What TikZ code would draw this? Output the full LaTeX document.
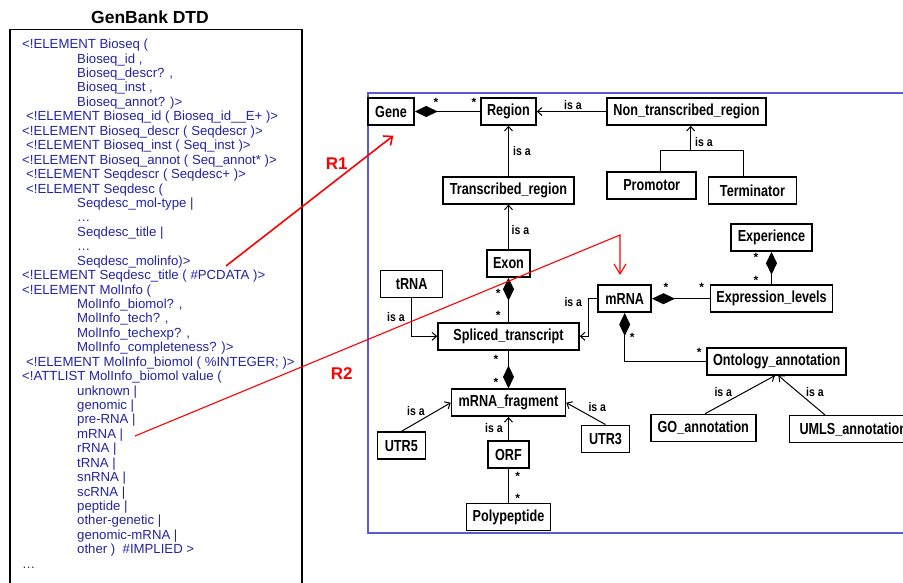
\documentclass[tikz,border=0pt]{standalone}
\usepackage{fontspec}
\setmainfont{Liberation Sans}
\newfontfamily\narrowfont[FakeStretch=0.79]{Liberation Sans}
\newfontfamily\lblfont[FakeStretch=0.84]{Liberation Sans}
\usetikzlibrary{arrows.meta}
\definecolor{dtdblue}{RGB}{35,35,165}
\definecolor{frameblue}{RGB}{90,90,215}
\definecolor{relred}{RGB}{255,0,0}
\newcommand\dtdline[3]{\node[dtd] (d#1) at (#2,{48.7+14.43*(#1-1)}) {#3};}
\begin{document}
\begin{tikzpicture}[x=1pt,y=-1pt,
  box/.style={draw, line width=1.5pt, inner sep=0pt, minimum height=27pt,
    font=\narrowfont\bfseries\fontsize{16}{18}\selectfont},
  dtd/.style={anchor=base west, inner sep=0pt, text=dtdblue,
    font=\fontsize{13.2}{15}\selectfont},
  isalbl/.style={inner sep=0pt, font=\lblfont\bfseries\fontsize{12.5}{14}\selectfont},
  star/.style={inner sep=0pt, font=\bfseries\fontsize{12}{13}\selectfont},
  isa/.style={draw, line width=1pt, -{Straight Barb[length=4.5pt,width=8pt]}},
  comp/.style={draw, line width=1.5pt, {Diamond[length=23pt,width=11pt]}-},
  compend/.style={draw, line width=1.5pt, -{Diamond[length=23pt,width=11pt]}},
  plain/.style={draw, line width=1.2pt},
  rellbl/.style={inner sep=0pt, text=relred, font=\bfseries\fontsize{17}{19}\selectfont}
]
\useasboundingbox (0,0) rectangle (903,582);
\clip (0,0) rectangle (903,582);

% ---------------- left: GenBank DTD ----------------
\node[inner sep=0pt, font=\bfseries\fontsize{17.5}{20}\selectfont] (title) at (150,17) {GenBank DTD};
\draw[line width=1.3pt] (10,29.5) rectangle (302,640);

\dtdline{1}{22}{<!ELEMENT Bioseq (}
\dtdline{2}{77}{Bioseq\_id ,}
\dtdline{3}{77}{Bioseq\_descr? ,}
\dtdline{4}{77}{Bioseq\_inst ,}
\dtdline{5}{77}{Bioseq\_annot? )>}
\dtdline{6}{26}{<!ELEMENT Bioseq\_id ( Bioseq\_id\_\_E+ )>}
\dtdline{7}{22}{<!ELEMENT Bioseq\_descr ( Seqdescr )>}
\dtdline{8}{26}{<!ELEMENT Bioseq\_inst ( Seq\_inst )>}
\dtdline{9}{22}{<!ELEMENT Bioseq\_annot ( Seq\_annot* )>}
\dtdline{10}{26}{<!ELEMENT Seqdescr ( Seqdesc+ )>}
\dtdline{11}{26}{<!ELEMENT Seqdesc (}
\dtdline{12}{77}{Seqdesc\_mol-type |}
\dtdline{13}{77}{…}
\dtdline{14}{77}{Seqdesc\_title |}
\dtdline{15}{77}{…}
\dtdline{16}{77}{Seqdesc\_molinfo)>}
\dtdline{17}{22}{<!ELEMENT Seqdesc\_title ( \#PCDATA )>}
\dtdline{18}{22}{<!ELEMENT MolInfo (}
\dtdline{19}{77}{MolInfo\_biomol? ,}
\dtdline{20}{77}{MolInfo\_tech? ,}
\dtdline{21}{77}{MolInfo\_techexp? ,}
\dtdline{22}{77}{MolInfo\_completeness? )>}
\dtdline{23}{26}{<!ELEMENT MolInfo\_biomol ( \%INTEGER; )>}
\dtdline{24}{22}{<!ATTLIST MolInfo\_biomol value (}
\dtdline{25}{77}{unknown |}
\dtdline{26}{77}{genomic |}
\dtdline{27}{77}{pre-RNA |}
\dtdline{28}{77}{mRNA |}
\dtdline{29}{77}{rRNA |}
\dtdline{30}{77}{tRNA |}
\dtdline{31}{77}{snRNA |}
\dtdline{32}{77}{scRNA |}
\dtdline{33}{77}{peptide |}
\dtdline{34}{77}{other-genetic |}
\dtdline{35}{77}{genomic-mRNA |}
\dtdline{36}{77}{other )\ \ \#IMPLIED >}
\dtdline{37}{22}{…}

% ---------------- right: model ----------------
\draw[frameblue, line width=2pt] (368,92.7) rectangle (960,533);

\node[box, minimum width=46pt]  (gene)    at (391,111.5)   {Gene};
\node[box, minimum width=55pt]  (region)  at (508.5,111.5) {Region};
\node[box, minimum width=159pt] (nontr)   at (686.5,111.5) {Non\_transcribed\_region};
\node[box, minimum width=131pt] (trans)   at (508.5,190.3) {Transcribed\_region};
\node[box, minimum width=89pt]  (prom)    at (651.7,185.3) {Promotor};
\node[box, minimum width=88pt]  (term)    at (752.5,190.3) {Terminator};
\node[box, minimum width=43pt]  (exon)    at (508.5,263.5) {Exon};
\node[box, minimum width=81pt]  (exper)   at (771.5,237.5) {Experience};
\node[box, minimum width=53pt]  (mrna)    at (624.7,298.7) {mRNA};
\node[box, minimum width=122pt] (expr)    at (771.5,298.7) {Expression\_levels};
\node[box, minimum width=62pt]  (trna)    at (411.7,284.2) {tRNA};
\node[box, minimum width=141pt] (spliced) at (508.5,336.3) {Spliced\_transcript};
\node[box, minimum width=139pt] (onto)    at (776.7,361.3) {Ontology\_annotation};
\node[box, minimum width=114pt] (frag)    at (508.5,402.7) {mRNA\_fragment};
\node[box, minimum width=48pt]  (utr5)    at (401.3,445.7) {UTR5};
\node[box, minimum width=48pt]  (utr3)    at (605.5,438.8) {UTR3};
\node[box, minimum width=41pt]  (orf)     at (508.5,454.7) {ORF};
\node[box, minimum width=84pt]  (poly)    at (508.5,517)   {Polypeptide};
\node[box, minimum width=105pt] (go)      at (703.3,428)   {GO\_annotation};
\node[box, minimum width=128pt] (umls)    at (853.3,429.2) {UMLS\_annotation};

% composition links
\draw[comp] (gene.east) -- (region.west);
\node[star] (s1) at (436,102) {*};
\node[star] (s2) at (474,102) {*};
\draw[comp] (exon.south) -- (spliced.north);
\node[star] (s3) at (498.3,293) {*};
\node[star] (s4) at (498.3,315) {*};
\draw[compend] (spliced.south) -- (frag.north);
\node[star] (s5) at (496,359.5) {*};
\node[star] (s6) at (496,382) {*};
\draw[plain] (orf.south) -- (poly.north);
\node[star] (s7) at (517.7,476.5) {*};
\node[star] (s8) at (517.7,498.5) {*};
\draw[comp] (mrna.east) -- (expr.west);
\node[star] (s9) at (666,287.5) {*};
\node[star] (s10) at (701.7,287.5) {*};
\draw[comp] (exper.south) -- (expr.north);
\node[star] (s11) at (756,257) {*};
\node[star] (s12) at (756,280) {*};
\draw[comp] (mrna.south) |- (onto.west);
\node[star] (s13) at (632.3,337.5) {*};
\node[star] (s14) at (699.3,352) {*};

% is-a links
\draw[isa] (nontr.west) -- (region.east);
\node[isalbl] (l1) at (573,105) {is a};
\draw[isa] (trans.north) -- (region.south);
\node[isalbl] (l2) at (522,151) {is a};
\draw[isa] (exon.north) -- (trans.south);
\node[isalbl] (l3) at (520.5,230) {is a};
\coordinate (pj) at (690.7,150.7);
\draw[line width=1pt] ([xshift=9pt]prom.north) |- (pj) -| ([xshift=-9.2pt]term.north);
\draw[isa] (pj) -- (pj |- nontr.south);
\node[isalbl] (l4) at (704,142) {is a};
\draw[isa] (trna.south) |- (spliced.west);
\node[isalbl] (l5) at (396,317.5) {is a};
\coordinate (mk) at (588.3,298.7);
\draw[isa] (mrna.west) -- (mk) |- (spliced.east);
\node[isalbl] (l6) at (573.3,302.5) {is a};
\draw[isa] (utr5.north) -- (frag.west);
\node[isalbl] (l7) at (416,411) {is a};
\draw[isa] (utr3.north) -- (frag.east);
\node[isalbl] (l8) at (597.3,407) {is a};
\draw[isa] (orf.north) -- (frag.south);
\node[isalbl] (l9) at (494,428.5) {is a};
\draw[isa] ([xshift=1.7pt]go.north) -- ([xshift=-1.7pt]onto.south);
\node[isalbl] (l10) at (723.3,392) {is a};
\draw[isa] ([xshift=-28.3pt]umls.north) -- ([xshift=1.6pt]onto.south);
\node[isalbl] (l11) at (815,392) {is a};

% red relations
\coordinate (r1s) at (226,266);
\coordinate (r1e) at (393.3,135.7);
\draw[relred, line width=1.6pt, -{Straight Barb[length=7pt,width=12pt]}] (r1s) -- (r1e);
\node[rellbl] (R1) at (336.7,164) {R1};
\coordinate (r2s) at (135,436);
\coordinate (r2k) at (620,235);
\coordinate (r2e) at (620,275);
\draw[relred, line width=1.1pt, -{Straight Barb[length=10pt,width=12pt]}] (r2s) -- (r2k) -- (r2e);
\node[rellbl] (R2) at (341.7,374) {R2};
\end{tikzpicture}
\end{document}
